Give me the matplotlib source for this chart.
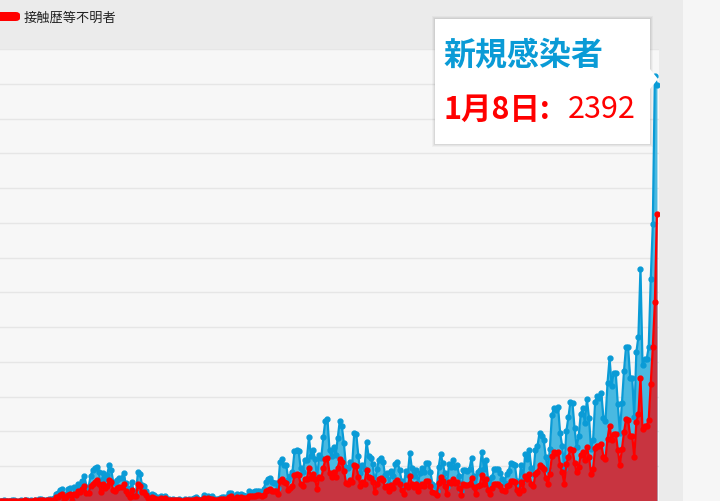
import matplotlib.pyplot as plt
import matplotlib.patches as mpatches
import numpy as np

plt.rcParams['font.family'] = ['Noto Sans CJK JP', 'DejaVu Sans']

# daily counts, 2020-02-24 .. 2021-01-08
total = [
    1,2,3,1,2,0,3,4,2,1,3,2,6,4,2,3,1,7,2,12,9,6,4,8,10,14,16,41,47,63,71,17,41,68,72,13,78,
    66,97,89,116,143,83,79,144,178,189,197,166,91,161,126,149,206,181,107,102,123,132,134,161,103,72,39,112,47,46,
    165,154,91,87,58,36,23,39,36,22,15,28,10,30,9,14,5,10,5,5,11,3,2,14,8,10,11,15,22,14,5,
    13,34,12,28,20,26,14,13,12,18,22,25,24,47,48,27,16,41,35,39,35,29,31,55,48,54,57,60,58,54,
    67,107,124,131,111,102,106,75,224,243,206,206,119,143,165,286,293,290,188,168,237,238,366,260,295,239,131,266,250,367,463,
    472,292,258,309,263,360,462,429,331,197,188,222,206,389,385,260,161,207,186,339,258,247,212,95,182,236,250,226,148,160,100,
    170,141,211,226,181,116,78,170,149,276,187,146,181,102,163,191,167,220,218,166,96,88,58,195,270,218,160,78,212,194,
    235,196,208,143,60,179,177,172,186,249,146,78,166,177,284,185,235,124,78,139,185,186,185,161,124,102,158,171,221,215,209,
    116,87,209,122,270,242,294,189,157,293,317,393,374,352,255,180,298,493,534,522,539,391,314,186,401,481,570,561,418,311,
    372,500,533,449,584,480,299,352,572,602,595,621,480,460,678,822,664,736,736,556,392,563,748,888,884,710,708,481,856,944,1337,
    783,814,816,884,1278,1591,2447,2392,
]
unknown = [
    0,1,1,0,1,0,1,2,1,0,1,1,3,2,1,1,0,3,1,5,4,3,2,4,5,7,8,22,25,33,38,9,22,36,40,7,42,
    36,55,50,70,85,48,45,85,100,110,120,96,52,95,72,88,120,108,62,60,72,78,80,95,60,42,22,65,27,26,
    95,88,52,50,33,20,13,22,20,12,8,15,5,16,5,8,3,5,3,3,6,2,1,7,4,5,6,8,11,7,3,
    7,18,6,15,10,13,7,7,6,10,11,13,12,25,26,14,8,22,19,21,19,15,17,30,26,29,31,33,32,30,
    37,58,65,70,60,55,57,40,115,125,108,105,62,75,86,150,155,150,98,88,125,125,190,135,155,125,70,140,130,190,240,
    250,160,140,165,140,190,240,225,175,105,100,118,110,205,200,140,88,110,100,180,140,130,112,52,98,125,135,120,80,86,55,
    90,75,112,120,96,62,42,90,80,145,100,78,96,55,86,100,88,116,115,88,52,48,32,102,140,115,85,42,112,102,
    124,104,110,76,32,95,94,91,98,130,78,42,88,94,150,98,124,66,42,74,98,98,98,85,66,55,84,90,116,113,110,
    62,46,110,65,142,128,155,100,84,155,168,208,198,186,135,96,158,260,282,276,284,206,166,100,212,254,300,296,220,165,
    198,264,282,238,308,254,158,186,302,318,314,328,254,243,358,434,350,388,388,294,208,298,395,470,466,375,374,254,452,498,706,
    413,430,431,466,675,885,1144,1650,
]
n = min(len(total), len(unknown))
total = total[:n]
unknown = unknown[:n]
x = np.arange(n)

blue = '#0a9bd6'
red = '#ff0000'

fig = plt.figure(figsize=(7.2, 5.02), dpi=100)
fig.patch.set_facecolor('#ebebeb')
fig.patches.append(mpatches.Rectangle((683 / 720, 0), 1, 1, transform=fig.transFigure,
                                      facecolor='#f6f6f6', edgecolor='none', zorder=-5))
ax = fig.add_axes([0, 0, 659 / 720, 452 / 502])
ax.set_facecolor('#f7f7f7')

ax.fill_between(x, total, color='#40b6e0', alpha=0.95, lw=0)
ax.plot(x, total, color=blue, lw=1.6, marker='o', ms=3.5)
ax.fill_between(x, unknown, color='#c83440', lw=0)
ax.plot(x, unknown, color=red, lw=1.6, marker='o', ms=3.5)

ax.set_xlim(0, n)
ax.set_ylim(0, 2600)
ax.set_yticks(range(0, 2601, 200))
ax.grid(axis='y', color='#e6e6e6', lw=1)
ax.set_axisbelow(True)
ax.tick_params(left=False, bottom=False, labelleft=False, labelbottom=False)
for s in ax.spines.values():
    s.set_visible(False)

# legend
fig.patches.append(mpatches.FancyBboxPatch((-10 / 720, (502 - 22) / 502), 30 / 720, 9 / 502,
                                           boxstyle='round,pad=0,rounding_size=0.006',
                                           transform=fig.transFigure, facecolor=red, edgecolor='none'))
fig.text(24 / 720, 1 - 18 / 502, '接触歴等不明者', fontsize=9.5, va='center', ha='left', color='#222222')

# tooltip
fx0, fy0, fw, fh = 435 / 720, (502 - 145) / 502, 215 / 720, 125 / 502
for i, a in enumerate([0.05, 0.04, 0.03]):
    d = (i + 1) / 720
    fig.patches.append(mpatches.Rectangle((fx0 - d, fy0 - (i + 1) / 502), fw + 2 * d, fh + 2 * (i + 1) / 502,
                                          transform=fig.transFigure, facecolor=(0, 0, 0, a),
                                          edgecolor='none', zorder=9))
fig.patches.append(mpatches.Rectangle((fx0, fy0), fw, fh, transform=fig.transFigure,
                                      facecolor='white', edgecolor='none', zorder=10))
fig.patches.append(mpatches.Polygon([(fx0 + fw, 1 - 70 / 502), (fx0 + fw + 8 / 720, 1 - 80 / 502),
                                     (fx0 + fw, 1 - 90 / 502)], closed=True, transform=fig.transFigure,
                                    facecolor='white', edgecolor='none', zorder=10))
fig.text(443 / 720, 1 - 56 / 502, '新規感染者', fontsize=23, fontweight='bold', color=blue,
         va='center', ha='left', zorder=11)
fig.text(443 / 720, 1 - 110 / 502, '1月8日:', fontsize=22, fontweight='bold', color=red,
         va='center', ha='left', zorder=11)
fig.text(568 / 720, 1 - 110 / 502, '2392', fontsize=22, color=red,
         va='center', ha='left', zorder=11)

fig.savefig('out.png', dpi=100, facecolor=fig.get_facecolor())
